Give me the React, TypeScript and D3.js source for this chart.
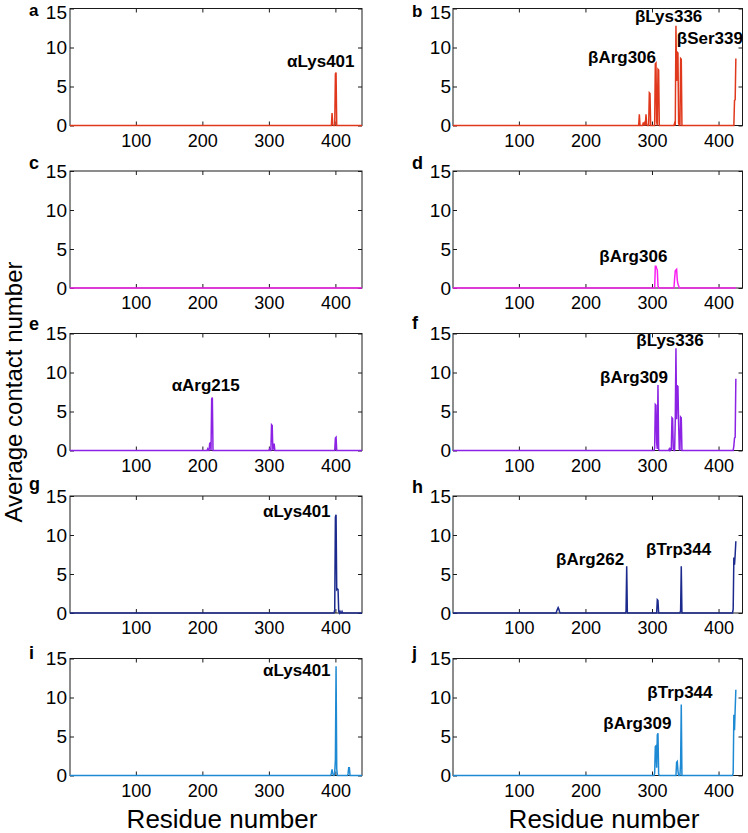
import React, { useEffect, useRef } from 'react';
import * as d3 from 'd3';

// chain lengths (residues drawn per series)
const alphaLength = 451;
const betaLength = 426;

const xTicks = [100, 200, 300, 400];
const yTicks = [0, 5, 10, 15];

const panelLetters = ['a', 'b', 'c', 'd', 'e', 'f', 'g', 'h', 'i', 'j'];
const panelColors = [
  '#e0381c', '#e0381c',
  '#f820f0', '#f820f0',
  '#8b22e4', '#8b22e4',
  '#1b2a8c', '#1b2a8c',
  '#1f8ad4', '#1f8ad4',
];

// non-zero average contact numbers, [residue, value]; all other residues are 0
const spikesA: [number, number][] = [[395, 1.6], [396, 0.2], [400, 6.6], [401, 6.8]];
const spikesB: [number, number][] = [
  [281, 1.45], [287, 0.4], [289, 0.3], [291, 1.45], [292, 0.2], [296, 4.2], [297, 4.1],
  [305, 7.9], [306, 8.0], [307, 0.5], [309, 7.2], [310, 7.1],
  [334, 0.3], [336, 12.8], [337, 5.7], [338, 9.4], [339, 9.3], [340, 0.3], [343, 8.6], [344, 8.5],
  [424, 3.2], [425, 3.3], [426, 8.6],
];
const spikesC: [number, number][] = [];
const spikesD: [number, number][] = [
  [305, 2.8], [306, 2.8], [307, 2.5], [308, 2.3], [309, 0.3],
  [334, 1.2], [335, 2.2], [336, 2.3], [337, 2.4], [338, 1.0], [339, 0.5], [340, 0.3],
];
const spikesE: [number, number][] = [
  [208, 0.2], [211, 0.9], [212, 1.0], [214, 6.6], [215, 6.8],
  [301, 0.2], [304, 3.3], [305, 3.2], [307, 0.8], [308, 0.8],
  [400, 1.6], [401, 1.7],
];
const spikesF: [number, number][] = [
  [304, 0.3], [305, 5.9], [306, 5.8], [307, 1.0], [308, 0.2], [309, 8.4], [310, 0.2],
  [326, 0.2], [328, 0.2], [330, 4.2], [331, 4.1], [332, 0.2], [335, 4.0], [336, 13.1],
  [337, 4.0], [338, 8.3], [339, 8.2], [340, 3.5], [341, 0.2], [343, 4.3], [344, 4.2],
  [423, 0.6], [424, 1.6], [425, 1.7], [426, 9.2],
];
const spikesG: [number, number][] = [
  [399, 0.4], [400, 12.3], [401, 12.6], [402, 3.0], [403, 3.1], [404, 3.0],
  [405, 0.2], [407, 0.2], [410, 0.2],
];
const spikesH: [number, number][] = [
  [157, 0.3], [158, 0.5], [159, 0.7], [160, 0.5], [161, 0.2],
  [261, 0.2], [262, 6.0], [308, 1.7], [309, 1.6], [343, 0.3], [344, 6.0],
  [422, 0.5], [423, 7.1], [424, 6.2], [425, 7.5], [426, 9.2],
];
const spikesI: [number, number][] = [
  [394, 0.3], [395, 0.8], [396, 0.3], [399, 0.4], [400, 2.0], [401, 14.0], [402, 0.9],
  [419, 0.2], [420, 1.0], [421, 1.0],
];
const spikesJ: [number, number][] = [
  [304, 0.3], [305, 3.7], [306, 3.8], [307, 1.0], [308, 5.2], [309, 5.4], [310, 0.2],
  [337, 1.7], [338, 1.8], [339, 0.6], [343, 1.5], [344, 9.1],
  [422, 0.3], [423, 7.8], [424, 5.8], [425, 8.5], [426, 11.0],
];
const panelSpikes = [spikesA, spikesB, spikesC, spikesD, spikesE, spikesF, spikesG, spikesH, spikesI, spikesJ];

// residue labels: [text, residue at label centre, value at baseline]
const panelNotes: [string, number, number][][] = [
  [['αLys401', 378, 7.5]],
  [['βArg306', 255, 8.0], ['βLys336', 325, 13.3], ['βSer339', 387, 10.4]],
  [],
  [['βArg306', 272, 3.3]],
  [['αArg215', 205, 7.6]],
  [['βArg309', 273, 8.6], ['βLys336', 327, 13.4]],
  [['αLys401', 342, 12.3]],
  [['βArg262', 207, 6.1], ['βTrp344', 340, 7.5]],
  [['αLys401', 342, 12.7]],
  [['βArg309', 278, 6.0], ['βTrp344', 342, 10.0]],
];

const FONT = "'Liberation Sans', Arial, Helvetica, sans-serif";

const App = () => {
  const svgRef = useRef<SVGSVGElement>(null);

  useEffect(() => {
    const svg = d3.select(svgRef.current);
    svg.selectAll('*').remove();

    const columns = [
      { left: 70, right: 362, domain: [1, 440], length: alphaLength, labelX: 29, tickPad: 3 },
      { left: 453, right: 742.5, domain: [1, 436], length: betaLength, labelX: 412, tickPad: 2 },
    ];
    const plotH = 117;
    const rowStep = 162.5;
    const letterBaseline = [15.5, 17, 169, 169, 329.5, 329, 490, 493, 659, 659];

    panelLetters.forEach((letter, i) => {
      const col = columns[i % 2];
      const row = Math.floor(i / 2);
      const top = 8.5 + row * rowStep;
      const bottom = top + plotH;

      const x = d3.scaleLinear().domain(col.domain).range([col.left, col.right]);
      const y = d3.scaleLinear().domain([0, 15]).range([bottom, top]);

      const g = svg.append('g');

      // box
      g.append('rect')
        .attr('x', col.left)
        .attr('y', top)
        .attr('width', col.right - col.left)
        .attr('height', plotH)
        .attr('fill', 'none')
        .attr('stroke', '#1a1a1a')
        .attr('stroke-width', 1);

      // inward ticks on all four sides, labels on left and bottom
      const styleAxis = (sel: any, size: number) => {
        sel.select('.domain').remove();
        sel.selectAll('line').attr('stroke', '#1a1a1a');
        sel.selectAll('text').style('font-family', FONT).style('font-size', `${size}px`).attr('fill', '#000');
      };

      g.append('g')
        .attr('transform', `translate(0,${bottom})`)
        .call(d3.axisBottom(x).tickValues(xTicks).tickSizeInner(-4).tickSizeOuter(0).tickPadding(8.5))
        .call((s: any) => styleAxis(s, 18));
      g.append('g')
        .attr('transform', `translate(0,${top})`)
        .call(d3.axisTop(x).tickValues(xTicks).tickSizeInner(-4).tickSizeOuter(0).tickFormat(() => ''))
        .call((s: any) => styleAxis(s, 18));
      const left = g.append('g')
        .attr('transform', `translate(${col.left},0)`)
        .call(d3.axisLeft(y).tickValues(yTicks).tickSizeInner(-4).tickSizeOuter(0).tickPadding(col.tickPad))
        .call((s: any) => styleAxis(s, 19));
      // first row: keep the top label clear of the page edge
      if (row === 0) {
        left.selectAll('.tick text').filter((d: any) => d === 15).attr('dy', '0.5em');
      }
      g.append('g')
        .attr('transform', `translate(${col.right},0)`)
        .call(d3.axisRight(y).tickValues(yTicks).tickSizeInner(-4).tickSizeOuter(0).tickFormat(() => ''))
        .call((s: any) => styleAxis(s, 19));

      // contact number trace
      const clipId = `clip-${letter}`;
      svg.append('clipPath').attr('id', clipId)
        .append('rect')
        .attr('x', col.left)
        .attr('y', top - 2)
        .attr('width', col.right - col.left)
        .attr('height', plotH + 4);

      const lookup = new Map(panelSpikes[i]);
      const series: [number, number][] = d3.range(1, col.length + 1).map(r => [r, lookup.get(r) ?? 0]);
      const line = d3.line<[number, number]>().x(d => x(d[0])).y(d => y(d[1]));

      g.append('path')
        .datum(series)
        .attr('clip-path', `url(#${clipId})`)
        .attr('d', line)
        .attr('fill', 'none')
        .attr('stroke', panelColors[i])
        .attr('stroke-width', 1.5)
        .attr('stroke-linejoin', 'miter');

      // residue annotations
      g.selectAll('.note')
        .data(panelNotes[i])
        .enter()
        .append('text')
        .attr('x', d => x(d[1]))
        .attr('y', d => y(d[2]))
        .attr('text-anchor', 'middle')
        .style('font-family', FONT)
        .style('font-size', '17px')
        .style('font-weight', 'bold')
        .text(d => d[0]);

      // panel letter
      svg.append('text')
        .attr('x', col.labelX)
        .attr('y', letterBaseline[i])
        .style('font-family', FONT)
        .style('font-size', row === 0 ? '17px' : '18px')
        .style('font-weight', 'bold')
        .text(letter);
    });

    // y-axis title
    svg.append('text')
      .attr('transform', 'translate(22,392) rotate(-90)')
      .attr('text-anchor', 'middle')
      .style('font-family', FONT)
      .style('font-size', '24px')
      .text('Average contact number');

    // x-axis titles
    [222, 604].forEach(cx => {
      svg.append('text')
        .attr('x', cx)
        .attr('y', 828)
        .attr('text-anchor', 'middle')
        .style('font-family', FONT)
        .style('font-size', '26px')
        .text('Residue number');
    });
  }, []);

  return (
    <svg
      ref={svgRef}
      width={748}
      height={833}
      style={{ position: 'absolute', left: 0, top: 0, background: '#fff' }}
    />
  );
};

export default App;
